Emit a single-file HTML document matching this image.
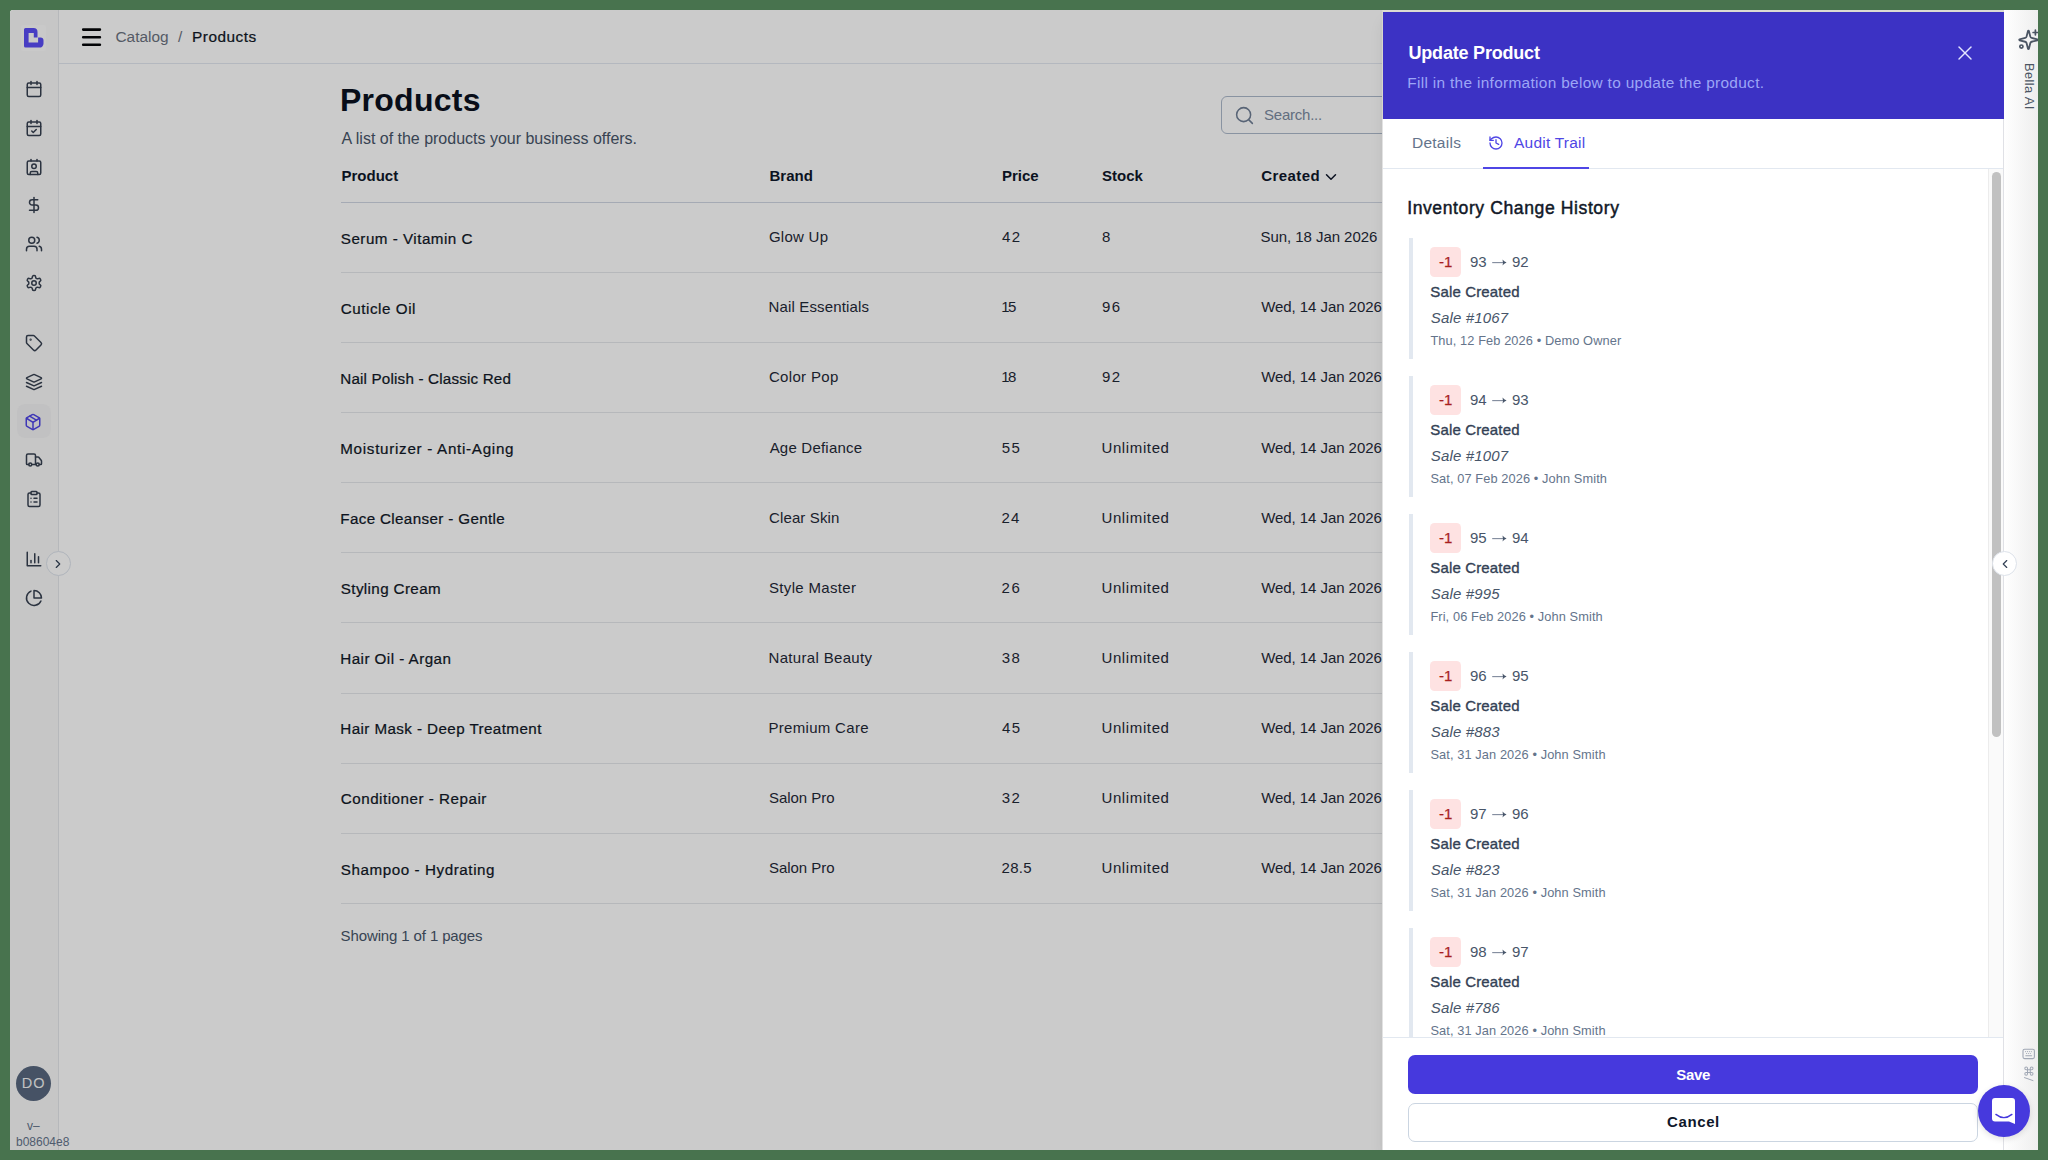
<!DOCTYPE html>
<html><head><meta charset="utf-8"><style>
*{box-sizing:border-box;margin:0;padding:0}
html,body{width:2048px;height:1160px;overflow:hidden}
body{background:#48734e;position:relative;font-family:"Liberation Sans",sans-serif;color:#111827}
svg.i{position:absolute;fill:none;stroke:currentColor;stroke-linecap:round;stroke-linejoin:round;overflow:visible}
.t{position:absolute;white-space:nowrap}
.b{position:absolute}
</style></head><body>
<div class="b" style="left:10px;top:10px;width:1994px;height:1140px;background:#fff;border-top-left-radius:3px"></div>
<div class="b" style="left:10px;top:10px;width:48px;height:1140px;background:#f9f9f9;border-top-left-radius:3px"></div>
<div class="b" style="left:58px;top:10px;width:1px;height:1140px;background:#e5e7eb"></div>
<div class="b" style="left:21px;top:25px;width:25px;height:26px;background:#fdfdfd;border-radius:2px"></div>
<svg class="b" style="left:24px;top:28px" width="20" height="20" viewBox="0 0 20 20"><path fill-rule="evenodd" fill="#5a4df5" d="M1.5 0H9.5A4 4 0 0 1 13.5 4V9.5H16.5A3 3 0 0 1 19.5 12.5V15.5A4 4 0 0 1 15.5 19.6H1.5A1.5 1.5 0 0 1 0 18.1V1.5A1.5 1.5 0 0 1 1.5 0ZM4.6 5V14.6H14.1V9.5H9.8V5Z"/></svg>
<svg class="i" style="left:24.5px;top:80px;width:18px;height:18px;color:#374151;" viewBox="0 0 24 24" stroke-width="2"><path d="M8 2v4"/><path d="M16 2v4"/><rect width="18" height="18" x="3" y="4" rx="2"/><path d="M3 10h18"/></svg>
<svg class="i" style="left:24.5px;top:119px;width:18px;height:18px;color:#374151;" viewBox="0 0 24 24" stroke-width="2"><path d="M8 2v4"/><path d="M16 2v4"/><rect width="18" height="18" x="3" y="4" rx="2"/><path d="M3 10h18"/><path d="m9 16 2 2 4-4"/></svg>
<svg class="i" style="left:24.5px;top:158px;width:18px;height:18px;color:#374151;" viewBox="0 0 24 24" stroke-width="2"><path d="M16 2v2"/><path d="M7 22v-2a2 2 0 0 1 2-2h6a2 2 0 0 1 2 2v2"/><path d="M8 2v2"/><circle cx="12" cy="11" r="3"/><rect x="3" y="4" width="18" height="18" rx="2"/></svg>
<svg class="i" style="left:24.5px;top:196px;width:18px;height:18px;color:#374151;" viewBox="0 0 24 24" stroke-width="2"><line x1="12" x2="12" y1="2" y2="22"/><path d="M17 5H9.5a3.5 3.5 0 0 0 0 7h5a3.5 3.5 0 0 1 0 7H6"/></svg>
<svg class="i" style="left:24.5px;top:235px;width:18px;height:18px;color:#374151;" viewBox="0 0 24 24" stroke-width="2"><path d="M16 21v-2a4 4 0 0 0-4-4H6a4 4 0 0 0-4 4v2"/><circle cx="9" cy="7" r="4"/><path d="M22 21v-2a4 4 0 0 0-3-3.87"/><path d="M16 3.13a4 4 0 0 1 0 7.75"/></svg>
<svg class="i" style="left:24.5px;top:274px;width:18px;height:18px;color:#374151;" viewBox="0 0 24 24" stroke-width="2"><path d="M12.22 2h-.44a2 2 0 0 0-2 2v.18a2 2 0 0 1-1 1.73l-.43.25a2 2 0 0 1-2 0l-.15-.08a2 2 0 0 0-2.73.73l-.22.38a2 2 0 0 0 .73 2.730l.15.1a2 2 0 0 1 1 1.72v.51a2 2 0 0 1-1 1.74l-.15.09a2 2 0 0 0-.73 2.73l.22.38a2 2 0 0 0 2.73.73l.15-.08a2 2 0 0 1 2 0l.43.25a2 2 0 0 1 1 1.73V20a2 2 0 0 0 2 2h.44a2 2 0 0 0 2-2v-.18a2 2 0 0 1 1-1.73l.43-.25a2 2 0 0 1 2 0l.15.08a2 2 0 0 0 2.73-.73l.22-.39a2 2 0 0 0-.73-2.73l-.15-.08a2 2 0 0 1-1-1.74v-.5a2 2 0 0 1 1-1.74l.15-.09a2 2 0 0 0 .73-2.73l-.22-.38a2 2 0 0 0-2.73-.73l-.15.08a2 2 0 0 1-2 0l-.43-.25a2 2 0 0 1-1-1.73V4a2 2 0 0 0-2-2z"/><circle cx="12" cy="12" r="3"/></svg>
<svg class="i" style="left:24.5px;top:334px;width:18px;height:18px;color:#374151;" viewBox="0 0 24 24" stroke-width="2"><path d="M12.586 2.586A2 2 0 0 0 11.172 2H4a2 2 0 0 0-2 2v7.172a2 2 0 0 0 .586 1.414l8.704 8.704a2.426 2.426 0 0 0 3.42 0l6.58-6.58a2.426 2.426 0 0 0 0-3.42z"/><circle cx="7.5" cy="7.5" r=".5" fill="currentColor"/></svg>
<svg class="i" style="left:24.5px;top:373px;width:18px;height:18px;color:#374151;" viewBox="0 0 24 24" stroke-width="2"><path d="m12.83 2.18a2 2 0 0 0-1.66 0L2.6 6.08a1 1 0 0 0 0 1.83l8.58 3.91a2 2 0 0 0 1.66 0l8.58-3.9a1 1 0 0 0 0-1.83Z"/><path d="m22 17.65-9.17 4.16a2 2 0 0 1-1.66 0L2 17.65"/><path d="m22 12.65-9.17 4.16a2 2 0 0 1-1.66 0L2 12.65"/></svg>
<div class="b" style="left:16.5px;top:404.3px;width:34px;height:34px;background:#f3f3f4;border-radius:8px"></div>
<svg class="i" style="left:24.1px;top:412.5px;width:18px;height:18px;color:#4f46e5;" viewBox="0 0 24 24" stroke-width="2"><path d="M11 21.73a2 2 0 0 0 2 0l7-4A2 2 0 0 0 21 16V8a2 2 0 0 0-1-1.73l-7-4a2 2 0 0 0-2 0l-7 4A2 2 0 0 0 3 8v8a2 2 0 0 0 1 1.73z"/><path d="M12 22V12"/><path d="m3.3 7 7.703 4.734a2 2 0 0 0 1.994 0L20.7 7"/><path d="m7.5 4.27 9 5.15"/></svg>
<svg class="i" style="left:24.5px;top:451px;width:18px;height:18px;color:#374151;" viewBox="0 0 24 24" stroke-width="2"><path d="M14 18V6a2 2 0 0 0-2-2H4a2 2 0 0 0-2 2v11a1 1 0 0 0 1 1h2"/><path d="M15 18H9"/><path d="M19 18h2a1 1 0 0 0 1-1v-3.65a1 1 0 0 0-.22-.624l-3.48-4.35A1 1 0 0 0 17.52 8H14"/><circle cx="17" cy="18" r="2"/><circle cx="7" cy="18" r="2"/></svg>
<svg class="i" style="left:24.5px;top:490px;width:18px;height:18px;color:#374151;" viewBox="0 0 24 24" stroke-width="2"><rect width="8" height="4" x="8" y="2" rx="1" ry="1"/><path d="M16 4h2a2 2 0 0 1 2 2v14a2 2 0 0 1-2 2H6a2 2 0 0 1-2-2V6a2 2 0 0 1 2-2h2"/><path d="M12 11h4"/><path d="M12 16h4"/><path d="M8 11h.01"/><path d="M8 16h.01"/></svg>
<svg class="i" style="left:24.5px;top:550px;width:18px;height:18px;color:#374151;" viewBox="0 0 24 24" stroke-width="2"><path d="M3 3v18h18"/><path d="M18 17V9"/><path d="M13 17V5"/><path d="M8 17v-3"/></svg>
<svg class="i" style="left:24.5px;top:589px;width:18px;height:18px;color:#374151;" viewBox="0 0 24 24" stroke-width="2"><path d="M21.21 15.89A10 10 0 1 1 8 2.83"/><path d="M22 12A10 10 0 0 0 12 2v10z"/></svg>
<div class="b" style="left:45.5px;top:551px;width:25px;height:25px;border-radius:50%;background:#fff;border:1px solid #dde3ec"></div>
<svg class="i" style="left:51px;top:556.5px;width:14px;height:14px;color:#334155;" viewBox="0 0 24 24" stroke-width="2"><path d="m9 18 6-6-6-6"/></svg>
<div class="b" style="left:16px;top:1066px;width:35px;height:35px;border-radius:50%;background:#58687f"></div>
<div class="t" style="left:21.81px;top:1075.73px;font-size:14.5px;line-height:14.5px;color:#f4f4f4;letter-spacing:0.935px;">DO</div>
<div class="t" style="left:27px;top:1119.84px;font-size:12px;line-height:12px;color:#64748b;">v–</div>
<div class="t" style="left:16px;top:1135.84px;font-size:12px;line-height:12px;color:#64748b;">b08604e8</div>
<div class="b" style="left:59px;top:63px;width:1945px;height:1px;background:#e2e8f0"></div>
<svg class="b" style="left:78px;top:25px" width="26" height="24" viewBox="78 25 26 24"><g stroke="#050608" stroke-width="2.6" stroke-linecap="round"><path d="M83.2 29.6H99.9M83.2 37.2H99.9M83.2 44.7H99.9"/></g></svg>
<div class="t" style="left:115.5px;top:29.16px;font-size:15.4px;line-height:15.4px;color:#6b7280;">Catalog</div>
<div class="t" style="left:178px;top:29.16px;font-size:15.4px;line-height:15.4px;color:#6b7280;">/</div>
<div class="t" style="left:192px;top:29.16px;font-size:15.4px;line-height:15.4px;color:#111827;letter-spacing:0.5px;-webkit-text-stroke:0.22px #111827;">Products</div>
<div class="t" style="left:340.0px;top:84.41px;font-size:32px;line-height:32px;color:#0b1120;font-weight:700;letter-spacing:0.26px;">Products</div>
<div class="t" style="left:341.6px;top:131.36px;font-size:16px;line-height:16px;color:#475569;letter-spacing:-0.01px;">A list of the products your business offers.</div>
<div class="b" style="left:1221px;top:96px;width:400px;height:38px;border:1px solid #adb9cb;border-radius:6px;background:#fff"></div>
<svg class="i" style="left:1234px;top:105.2px;width:21px;height:21px;color:#6f7e95;" viewBox="0 0 24 24" stroke-width="1.75"><circle cx="11" cy="11" r="8"/><path d="m21 21-4.3-4.3"/></svg>
<div class="t" style="left:1264.03px;top:107.30px;font-size:15px;line-height:15px;color:#7c8ba1;letter-spacing:-0.236px;">Search...</div>
<div class="t" style="left:341.5px;top:168.30px;font-size:15px;line-height:15px;color:#0f172a;font-weight:700;letter-spacing:0px;">Product</div>
<div class="t" style="left:769.5px;top:168.30px;font-size:15px;line-height:15px;color:#0f172a;font-weight:700;letter-spacing:0px;">Brand</div>
<div class="t" style="left:1002px;top:168.30px;font-size:15px;line-height:15px;color:#0f172a;font-weight:700;letter-spacing:0px;">Price</div>
<div class="t" style="left:1102px;top:168.30px;font-size:15px;line-height:15px;color:#0f172a;font-weight:700;letter-spacing:0px;">Stock</div>
<div class="t" style="left:1261.3px;top:168.30px;font-size:15px;line-height:15px;color:#0f172a;font-weight:700;letter-spacing:0.4px;">Created</div>
<svg class="i" style="left:1322px;top:167.5px;width:18px;height:18px;color:#0f172a;" viewBox="0 0 24 24" stroke-width="2"><path d="m6 9 6 6 6-6"/></svg>
<div class="b" style="left:341px;top:201.7px;width:1100px;height:1.3px;background:#d0d6e2"></div>
<div class="t" style="left:340.82px;top:230.83px;font-size:15.2px;line-height:15.2px;color:#111827;letter-spacing:0.492px;-webkit-text-stroke:0.22px #111827;">Serum - Vitamin C</div>
<div class="t" style="left:768.95px;top:229.30px;font-size:15px;line-height:15px;color:#1f2937;letter-spacing:0.259px;">Glow Up</div>
<div class="t" style="left:1001.97px;top:229.30px;font-size:15px;line-height:15px;color:#1f2937;letter-spacing:1.4px;">42</div>
<div class="t" style="left:1101.95px;top:229.30px;font-size:15px;line-height:15px;color:#1f2937;letter-spacing:0px;">8</div>
<div class="t" style="left:1260.53px;top:229.30px;font-size:15px;line-height:15px;color:#1f2937;letter-spacing:-0.052px;">Sun, 18 Jan 2026</div>
<div class="b" style="left:341px;top:272.08px;width:1100px;height:1px;background:#e5e7eb"></div>
<div class="t" style="left:340.74px;top:300.91px;font-size:15.2px;line-height:15.2px;color:#111827;letter-spacing:0.551px;-webkit-text-stroke:0.22px #111827;">Cuticle Oil</div>
<div class="t" style="left:768.47px;top:299.38px;font-size:15px;line-height:15px;color:#1f2937;letter-spacing:0.15px;">Nail Essentials</div>
<div class="t" style="left:1001.16px;top:299.38px;font-size:15px;line-height:15px;color:#1f2937;letter-spacing:-1.5px;">15</div>
<div class="t" style="left:1101.91px;top:299.38px;font-size:15px;line-height:15px;color:#1f2937;letter-spacing:1.5px;">96</div>
<div class="t" style="left:1261.14px;top:299.38px;font-size:15px;line-height:15px;color:#1f2937;letter-spacing:-0.052px;">Wed, 14 Jan 2026</div>
<div class="b" style="left:341px;top:342.16px;width:1100px;height:1px;background:#e5e7eb"></div>
<div class="t" style="left:340.25px;top:370.99px;font-size:15.2px;line-height:15.2px;color:#111827;letter-spacing:0.184px;-webkit-text-stroke:0.22px #111827;">Nail Polish - Classic Red</div>
<div class="t" style="left:768.95px;top:369.46px;font-size:15px;line-height:15px;color:#1f2937;letter-spacing:0.332px;">Color Pop</div>
<div class="t" style="left:1001.16px;top:369.46px;font-size:15px;line-height:15px;color:#1f2937;letter-spacing:-1.5px;">18</div>
<div class="t" style="left:1101.91px;top:369.46px;font-size:15px;line-height:15px;color:#1f2937;letter-spacing:1.5px;">92</div>
<div class="t" style="left:1261.14px;top:369.46px;font-size:15px;line-height:15px;color:#1f2937;letter-spacing:-0.052px;">Wed, 14 Jan 2026</div>
<div class="b" style="left:341px;top:412.24px;width:1100px;height:1px;background:#e5e7eb"></div>
<div class="t" style="left:340.25px;top:441.07px;font-size:15.2px;line-height:15.2px;color:#111827;letter-spacing:0.709px;-webkit-text-stroke:0.22px #111827;">Moisturizer - Anti-Aging</div>
<div class="t" style="left:769.67px;top:439.54px;font-size:15px;line-height:15px;color:#1f2937;letter-spacing:0.212px;">Age Defiance</div>
<div class="t" style="left:1001.7px;top:439.54px;font-size:15px;line-height:15px;color:#1f2937;letter-spacing:1.5px;">55</div>
<div class="t" style="left:1101.44px;top:439.54px;font-size:15px;line-height:15px;color:#1f2937;letter-spacing:0.624px;">Unlimited</div>
<div class="t" style="left:1261.14px;top:439.54px;font-size:15px;line-height:15px;color:#1f2937;letter-spacing:-0.052px;">Wed, 14 Jan 2026</div>
<div class="b" style="left:341px;top:482.32px;width:1100px;height:1px;background:#e5e7eb"></div>
<div class="t" style="left:340.25px;top:511.15px;font-size:15.2px;line-height:15.2px;color:#111827;letter-spacing:0.356px;-webkit-text-stroke:0.22px #111827;">Face Cleanser - Gentle</div>
<div class="t" style="left:768.95px;top:509.62px;font-size:15px;line-height:15px;color:#1f2937;letter-spacing:0.146px;">Clear Skin</div>
<div class="t" style="left:1001.55px;top:509.62px;font-size:15px;line-height:15px;color:#1f2937;letter-spacing:1.205px;">24</div>
<div class="t" style="left:1101.44px;top:509.62px;font-size:15px;line-height:15px;color:#1f2937;letter-spacing:0.624px;">Unlimited</div>
<div class="t" style="left:1261.14px;top:509.62px;font-size:15px;line-height:15px;color:#1f2937;letter-spacing:-0.052px;">Wed, 14 Jan 2026</div>
<div class="b" style="left:341px;top:552.40px;width:1100px;height:1px;background:#e5e7eb"></div>
<div class="t" style="left:340.82px;top:581.23px;font-size:15.2px;line-height:15.2px;color:#111827;letter-spacing:0.368px;-webkit-text-stroke:0.22px #111827;">Styling Cream</div>
<div class="t" style="left:769.03px;top:579.70px;font-size:15px;line-height:15px;color:#1f2937;letter-spacing:0.333px;">Style Master</div>
<div class="t" style="left:1001.55px;top:579.70px;font-size:15px;line-height:15px;color:#1f2937;letter-spacing:1.5px;">26</div>
<div class="t" style="left:1101.44px;top:579.70px;font-size:15px;line-height:15px;color:#1f2937;letter-spacing:0.624px;">Unlimited</div>
<div class="t" style="left:1261.14px;top:579.70px;font-size:15px;line-height:15px;color:#1f2937;letter-spacing:-0.052px;">Wed, 14 Jan 2026</div>
<div class="b" style="left:341px;top:622.48px;width:1100px;height:1px;background:#e5e7eb"></div>
<div class="t" style="left:340.25px;top:651.31px;font-size:15.2px;line-height:15.2px;color:#111827;letter-spacing:0.455px;-webkit-text-stroke:0.22px #111827;">Hair Oil - Argan</div>
<div class="t" style="left:768.47px;top:649.78px;font-size:15px;line-height:15px;color:#1f2937;letter-spacing:0.333px;">Natural Beauty</div>
<div class="t" style="left:1001.73px;top:649.78px;font-size:15px;line-height:15px;color:#1f2937;letter-spacing:1.5px;">38</div>
<div class="t" style="left:1101.44px;top:649.78px;font-size:15px;line-height:15px;color:#1f2937;letter-spacing:0.624px;">Unlimited</div>
<div class="t" style="left:1261.14px;top:649.78px;font-size:15px;line-height:15px;color:#1f2937;letter-spacing:-0.052px;">Wed, 14 Jan 2026</div>
<div class="b" style="left:341px;top:692.56px;width:1100px;height:1px;background:#e5e7eb"></div>
<div class="t" style="left:340.25px;top:721.39px;font-size:15.2px;line-height:15.2px;color:#111827;letter-spacing:0.414px;-webkit-text-stroke:0.22px #111827;">Hair Mask - Deep Treatment</div>
<div class="t" style="left:768.47px;top:719.86px;font-size:15px;line-height:15px;color:#1f2937;letter-spacing:0.309px;">Premium Care</div>
<div class="t" style="left:1001.97px;top:719.86px;font-size:15px;line-height:15px;color:#1f2937;letter-spacing:1.5px;">45</div>
<div class="t" style="left:1101.44px;top:719.86px;font-size:15px;line-height:15px;color:#1f2937;letter-spacing:0.624px;">Unlimited</div>
<div class="t" style="left:1261.14px;top:719.86px;font-size:15px;line-height:15px;color:#1f2937;letter-spacing:-0.052px;">Wed, 14 Jan 2026</div>
<div class="b" style="left:341px;top:762.64px;width:1100px;height:1px;background:#e5e7eb"></div>
<div class="t" style="left:340.74px;top:791.47px;font-size:15.2px;line-height:15.2px;color:#111827;letter-spacing:0.515px;-webkit-text-stroke:0.22px #111827;">Conditioner - Repair</div>
<div class="t" style="left:769.03px;top:789.94px;font-size:15px;line-height:15px;color:#1f2937;letter-spacing:-0.047px;">Salon Pro</div>
<div class="t" style="left:1001.73px;top:789.94px;font-size:15px;line-height:15px;color:#1f2937;letter-spacing:1.34px;">32</div>
<div class="t" style="left:1101.44px;top:789.94px;font-size:15px;line-height:15px;color:#1f2937;letter-spacing:0.624px;">Unlimited</div>
<div class="t" style="left:1261.14px;top:789.94px;font-size:15px;line-height:15px;color:#1f2937;letter-spacing:-0.052px;">Wed, 14 Jan 2026</div>
<div class="b" style="left:341px;top:832.72px;width:1100px;height:1px;background:#e5e7eb"></div>
<div class="t" style="left:340.82px;top:861.55px;font-size:15.2px;line-height:15.2px;color:#111827;letter-spacing:0.568px;-webkit-text-stroke:0.22px #111827;">Shampoo - Hydrating</div>
<div class="t" style="left:769.03px;top:860.02px;font-size:15px;line-height:15px;color:#1f2937;letter-spacing:-0.047px;">Salon Pro</div>
<div class="t" style="left:1001.55px;top:860.02px;font-size:15px;line-height:15px;color:#1f2937;letter-spacing:0.292px;">28.5</div>
<div class="t" style="left:1101.44px;top:860.02px;font-size:15px;line-height:15px;color:#1f2937;letter-spacing:0.624px;">Unlimited</div>
<div class="t" style="left:1261.14px;top:860.02px;font-size:15px;line-height:15px;color:#1f2937;letter-spacing:-0.052px;">Wed, 14 Jan 2026</div>
<div class="b" style="left:341px;top:902.80px;width:1100px;height:1px;background:#e5e7eb"></div>
<div class="t" style="left:340.62px;top:928.30px;font-size:15px;line-height:15px;color:#475569;letter-spacing:-0.124px;">Showing 1 of 1 pages</div>
<div class="b" style="left:10px;top:10px;width:1994px;height:1140px;background:rgba(0,0,0,.205);border-top-left-radius:3px"></div>
<div class="b" style="left:1382px;top:10px;width:622px;height:1140px;background:#fff;box-shadow:0 10px 15px -3px rgba(0,0,0,.1),0 4px 6px -4px rgba(0,0,0,.1)"></div>
<div class="b" style="left:1382px;top:10px;width:656px;height:2px;background:#dcdcd2"></div>
<div class="b" style="left:1382px;top:10px;width:1px;height:109px;background:#d6d6cd"></div>
<div class="b" style="left:1382px;top:119px;width:1px;height:1031px;background:#e2e2e2"></div>
<div class="b" style="left:1383px;top:12px;width:621px;height:107px;background:#3c32c4"></div>
<div class="t" style="left:1408.5px;top:43.96px;font-size:18px;line-height:18px;color:#ffffff;font-weight:700;letter-spacing:-0.2px;">Update Product</div>
<div class="t" style="left:1407.24px;top:75.06px;font-size:15.4px;line-height:15.4px;color:#9ca6f6;letter-spacing:0.319px;">Fill in the information below to update the product.</div>
<svg class="i" style="left:1953px;top:41px;width:24px;height:24px;color:#e4e6ff;" viewBox="0 0 24 24" stroke-width="1.4"><path d="M18 6 6 18"/><path d="m6 6 12 12"/></svg>
<div class="t" style="left:1412px;top:134.88px;font-size:15.5px;line-height:15.5px;color:#64748b;letter-spacing:0.25px;">Details</div>
<svg class="i" style="left:1487.5px;top:135px;width:16px;height:16px;color:#4f46e5;" viewBox="0 0 24 24" stroke-width="2"><path d="M3 12a9 9 0 1 0 9-9 9.75 9.75 0 0 0-6.74 2.74L3 8"/><path d="M3 3v5h5"/><path d="M12 7v5l4 2"/></svg>
<div class="t" style="left:1514px;top:134.88px;font-size:15.5px;line-height:15.5px;color:#4f46e5;letter-spacing:0.22px;">Audit Trail</div>
<div class="b" style="left:1383px;top:168px;width:621px;height:1px;background:#e2e8f0"></div>
<div class="b" style="left:1483px;top:167px;width:106px;height:2px;background:#4f46e5"></div>
<div class="b" style="left:1988px;top:169px;width:16px;height:868px;background:#fafafa;border-left:1px solid #ececec"></div>
<div class="b" style="left:1992px;top:172px;width:8.5px;height:565px;background:#c1c1c1;border-radius:5px"></div>
<div class="b" style="left:2003.3px;top:119px;width:1.3px;height:1031px;background:#e0e1e6"></div>
<div class="t" style="left:1407.18px;top:199.60px;font-size:17.6px;line-height:17.6px;color:#111827;letter-spacing:0.577px;-webkit-text-stroke:0.45px #111827;">Inventory Change History</div>
<div class="b" style="left:1408.5px;top:238px;width:4px;height:120.5px;background:#e2e8f0"></div>
<div class="b" style="left:1430px;top:247px;width:31px;height:30px;background:#fee2e2;border-radius:4.5px"></div>
<div class="t" style="left:1439px;top:253.90px;font-size:15px;line-height:15px;color:#a81f1f;-webkit-text-stroke:0.25px #a81f1f;">-1</div>
<div class="t" style="left:1470px;top:253.90px;font-size:15px;line-height:15px;color:#475569;letter-spacing:-0.2px;">93</div>
<svg class="b" style="left:1490px;top:257px" width="18" height="10" viewBox="1490 257 18 10"><path d="M1492.2 262.6H1504.5" stroke="#7f899b" stroke-width="1.1"/><path d="M1502.5 259.6Q1504 261.8 1506.6 262.6Q1504 263.4 1502.5 265.6Q1503.4 262.6 1502.5 259.6Z" fill="#475569"/></svg>
<div class="t" style="left:1512px;top:253.90px;font-size:15px;line-height:15px;color:#475569;letter-spacing:-0.2px;">92</div>
<div class="t" style="left:1430.3px;top:284.10px;font-size:15px;line-height:15px;color:#334155;letter-spacing:0.15px;-webkit-text-stroke:0.35px #334155;">Sale Created</div>
<div class="t" style="left:1430.8px;top:310.00px;font-size:15px;line-height:15px;color:#475569;font-style:italic;letter-spacing:0.15px;">Sale #1067</div>
<div class="t" style="left:1430.4px;top:335.06px;font-size:12.8px;line-height:12.8px;color:#64748b;letter-spacing:0.1px;">Thu, 12 Feb 2026 • Demo Owner</div>
<div class="b" style="left:1408.5px;top:376px;width:4px;height:120.5px;background:#e2e8f0"></div>
<div class="b" style="left:1430px;top:385px;width:31px;height:30px;background:#fee2e2;border-radius:4.5px"></div>
<div class="t" style="left:1439px;top:391.90px;font-size:15px;line-height:15px;color:#a81f1f;-webkit-text-stroke:0.25px #a81f1f;">-1</div>
<div class="t" style="left:1470px;top:391.90px;font-size:15px;line-height:15px;color:#475569;letter-spacing:-0.2px;">94</div>
<svg class="b" style="left:1490px;top:395px" width="18" height="10" viewBox="1490 395 18 10"><path d="M1492.2 400.6H1504.5" stroke="#7f899b" stroke-width="1.1"/><path d="M1502.5 397.6Q1504 399.8 1506.6 400.6Q1504 401.4 1502.5 403.6Q1503.4 400.6 1502.5 397.6Z" fill="#475569"/></svg>
<div class="t" style="left:1512px;top:391.90px;font-size:15px;line-height:15px;color:#475569;letter-spacing:-0.2px;">93</div>
<div class="t" style="left:1430.3px;top:422.10px;font-size:15px;line-height:15px;color:#334155;letter-spacing:0.15px;-webkit-text-stroke:0.35px #334155;">Sale Created</div>
<div class="t" style="left:1430.8px;top:448.00px;font-size:15px;line-height:15px;color:#475569;font-style:italic;letter-spacing:0.15px;">Sale #1007</div>
<div class="t" style="left:1430.4px;top:473.06px;font-size:12.8px;line-height:12.8px;color:#64748b;letter-spacing:0.1px;">Sat, 07 Feb 2026 • John Smith</div>
<div class="b" style="left:1408.5px;top:514px;width:4px;height:120.5px;background:#e2e8f0"></div>
<div class="b" style="left:1430px;top:523px;width:31px;height:30px;background:#fee2e2;border-radius:4.5px"></div>
<div class="t" style="left:1439px;top:529.90px;font-size:15px;line-height:15px;color:#a81f1f;-webkit-text-stroke:0.25px #a81f1f;">-1</div>
<div class="t" style="left:1470px;top:529.90px;font-size:15px;line-height:15px;color:#475569;letter-spacing:-0.2px;">95</div>
<svg class="b" style="left:1490px;top:533px" width="18" height="10" viewBox="1490 533 18 10"><path d="M1492.2 538.6H1504.5" stroke="#7f899b" stroke-width="1.1"/><path d="M1502.5 535.6Q1504 537.8 1506.6 538.6Q1504 539.4 1502.5 541.6Q1503.4 538.6 1502.5 535.6Z" fill="#475569"/></svg>
<div class="t" style="left:1512px;top:529.90px;font-size:15px;line-height:15px;color:#475569;letter-spacing:-0.2px;">94</div>
<div class="t" style="left:1430.3px;top:560.10px;font-size:15px;line-height:15px;color:#334155;letter-spacing:0.15px;-webkit-text-stroke:0.35px #334155;">Sale Created</div>
<div class="t" style="left:1430.8px;top:586.00px;font-size:15px;line-height:15px;color:#475569;font-style:italic;letter-spacing:0.15px;">Sale #995</div>
<div class="t" style="left:1430.4px;top:611.06px;font-size:12.8px;line-height:12.8px;color:#64748b;letter-spacing:0.1px;">Fri, 06 Feb 2026 • John Smith</div>
<div class="b" style="left:1408.5px;top:652px;width:4px;height:120.5px;background:#e2e8f0"></div>
<div class="b" style="left:1430px;top:661px;width:31px;height:30px;background:#fee2e2;border-radius:4.5px"></div>
<div class="t" style="left:1439px;top:667.90px;font-size:15px;line-height:15px;color:#a81f1f;-webkit-text-stroke:0.25px #a81f1f;">-1</div>
<div class="t" style="left:1470px;top:667.90px;font-size:15px;line-height:15px;color:#475569;letter-spacing:-0.2px;">96</div>
<svg class="b" style="left:1490px;top:671px" width="18" height="10" viewBox="1490 671 18 10"><path d="M1492.2 676.6H1504.5" stroke="#7f899b" stroke-width="1.1"/><path d="M1502.5 673.6Q1504 675.8 1506.6 676.6Q1504 677.4 1502.5 679.6Q1503.4 676.6 1502.5 673.6Z" fill="#475569"/></svg>
<div class="t" style="left:1512px;top:667.90px;font-size:15px;line-height:15px;color:#475569;letter-spacing:-0.2px;">95</div>
<div class="t" style="left:1430.3px;top:698.10px;font-size:15px;line-height:15px;color:#334155;letter-spacing:0.15px;-webkit-text-stroke:0.35px #334155;">Sale Created</div>
<div class="t" style="left:1430.8px;top:724.00px;font-size:15px;line-height:15px;color:#475569;font-style:italic;letter-spacing:0.15px;">Sale #883</div>
<div class="t" style="left:1430.4px;top:749.06px;font-size:12.8px;line-height:12.8px;color:#64748b;letter-spacing:0.1px;">Sat, 31 Jan 2026 • John Smith</div>
<div class="b" style="left:1408.5px;top:790px;width:4px;height:120.5px;background:#e2e8f0"></div>
<div class="b" style="left:1430px;top:799px;width:31px;height:30px;background:#fee2e2;border-radius:4.5px"></div>
<div class="t" style="left:1439px;top:805.90px;font-size:15px;line-height:15px;color:#a81f1f;-webkit-text-stroke:0.25px #a81f1f;">-1</div>
<div class="t" style="left:1470px;top:805.90px;font-size:15px;line-height:15px;color:#475569;letter-spacing:-0.2px;">97</div>
<svg class="b" style="left:1490px;top:809px" width="18" height="10" viewBox="1490 809 18 10"><path d="M1492.2 814.6H1504.5" stroke="#7f899b" stroke-width="1.1"/><path d="M1502.5 811.6Q1504 813.8 1506.6 814.6Q1504 815.4 1502.5 817.6Q1503.4 814.6 1502.5 811.6Z" fill="#475569"/></svg>
<div class="t" style="left:1512px;top:805.90px;font-size:15px;line-height:15px;color:#475569;letter-spacing:-0.2px;">96</div>
<div class="t" style="left:1430.3px;top:836.10px;font-size:15px;line-height:15px;color:#334155;letter-spacing:0.15px;-webkit-text-stroke:0.35px #334155;">Sale Created</div>
<div class="t" style="left:1430.8px;top:862.00px;font-size:15px;line-height:15px;color:#475569;font-style:italic;letter-spacing:0.15px;">Sale #823</div>
<div class="t" style="left:1430.4px;top:887.06px;font-size:12.8px;line-height:12.8px;color:#64748b;letter-spacing:0.1px;">Sat, 31 Jan 2026 • John Smith</div>
<div class="b" style="left:1408.5px;top:928px;width:4px;height:120.5px;background:#e2e8f0"></div>
<div class="b" style="left:1430px;top:937px;width:31px;height:30px;background:#fee2e2;border-radius:4.5px"></div>
<div class="t" style="left:1439px;top:943.90px;font-size:15px;line-height:15px;color:#a81f1f;-webkit-text-stroke:0.25px #a81f1f;">-1</div>
<div class="t" style="left:1470px;top:943.90px;font-size:15px;line-height:15px;color:#475569;letter-spacing:-0.2px;">98</div>
<svg class="b" style="left:1490px;top:947px" width="18" height="10" viewBox="1490 947 18 10"><path d="M1492.2 952.6H1504.5" stroke="#7f899b" stroke-width="1.1"/><path d="M1502.5 949.6Q1504 951.8 1506.6 952.6Q1504 953.4 1502.5 955.6Q1503.4 952.6 1502.5 949.6Z" fill="#475569"/></svg>
<div class="t" style="left:1512px;top:943.90px;font-size:15px;line-height:15px;color:#475569;letter-spacing:-0.2px;">97</div>
<div class="t" style="left:1430.3px;top:974.10px;font-size:15px;line-height:15px;color:#334155;letter-spacing:0.15px;-webkit-text-stroke:0.35px #334155;">Sale Created</div>
<div class="t" style="left:1430.8px;top:1000.00px;font-size:15px;line-height:15px;color:#475569;font-style:italic;letter-spacing:0.15px;">Sale #786</div>
<div class="t" style="left:1430.4px;top:1025.06px;font-size:12.8px;line-height:12.8px;color:#64748b;letter-spacing:0.1px;">Sat, 31 Jan 2026 • John Smith</div>
<div class="b" style="left:1383px;top:1037px;width:620px;height:113px;background:#fff;border-top:1px solid #e2e8f0"></div>
<div class="b" style="left:1408px;top:1055px;width:570px;height:39px;background:#4639dd;border-radius:7px"></div>
<div class="t" style="left:1676.18px;top:1067.30px;font-size:15px;line-height:15px;color:#ffffff;font-weight:700;letter-spacing:-0.298px;">Save</div>
<div class="b" style="left:1408px;top:1103px;width:570px;height:38.5px;background:#fff;border:1px solid #cbd5e1;border-radius:7px"></div>
<div class="t" style="left:1667.09px;top:1114.30px;font-size:15px;line-height:15px;color:#0f172a;font-weight:700;letter-spacing:0.596px;">Cancel</div>
<div class="b" style="left:2004px;top:10px;width:34px;height:1140px;background:linear-gradient(90deg,#fff,#eeeeee)"></div>
<div class="b" style="left:2004px;top:10px;width:34px;height:1140px;overflow:hidden"><svg class="b" style="left:0;top:0" width="34" height="60" viewBox="2004 10 34 60"><g fill="none" stroke="#4b5563" stroke-width="1.7" stroke-linejoin="round" stroke-linecap="round"><path transform="translate(2017.4 28.8) scale(0.92)" stroke-width="2" d="M9.937 15.5A2 2 0 0 0 8.5 14.063l-6.135-1.582a.5.5 0 0 1 0-.962L8.5 9.936A2 2 0 0 0 9.937 8.5l1.582-6.135a.5.5 0 0 1 .963 0L14.063 8.5A2 2 0 0 0 15.5 9.937l6.135 1.581a.5.5 0 0 1 0 .964L15.5 14.063a2 2 0 0 0-1.437 1.437l-1.582 6.135a.5.5 0 0 1-.963 0z"/><path d="M2035.4 30.2V34.8M2033.1 32.5H2037.7"/><circle cx="2021.4" cy="46.6" r="1.6"/></g></svg><div class="t" style="left:30.5px;top:53.3px;font-size:12.8px;line-height:12.8px;color:#4b5563;transform-origin:0 0;transform:rotate(90deg);letter-spacing:0.42px">Bella AI</div><svg class="b" style="left:0;top:0;top:1030px" width="34" height="60" viewBox="2004 1040 34 60"><g fill="none" stroke="#a0a7b4" stroke-width="1.1" stroke-linecap="round"><rect x="2023" y="1049.2" width="11.4" height="9.4" rx="1.6"/><path d="M2025.6 1051.6h.01M2027.5 1051.6h.01M2029.4 1051.6h.01M2031.3 1051.6h.01M2026.5 1053.5h.01M2028.4 1053.5h.01M2030.3 1053.5h.01M2025.8 1055.8h5.8"/><path transform="translate(2023.43 1065.63) scale(0.456)" stroke-width="2.2" d="M15 6v12a3 3 0 1 0 3-3H6a3 3 0 1 0 3 3V6a3 3 0 1 0-3 3h12a3 3 0 1 0-3-3"/><path d="M2024.5 1077.6 2033 1080.6" stroke-width="1"/></g></svg></div><div class="b" style="left:1992.2px;top:551px;width:25.2px;height:25.2px;border-radius:50%;background:#fff;border:1px solid #dde2ea"></div>
<svg class="i" style="left:1998px;top:556.8px;width:14px;height:14px;color:#334155;" viewBox="0 0 24 24" stroke-width="2"><path d="m15 18-6-6 6-6"/></svg>
<div class="b" style="left:1977.8px;top:1085.3px;width:51.8px;height:51.8px;border-radius:50%;background:#4639dd;box-shadow:0 2px 6px rgba(0,0,0,.12)"></div>
<svg class="b" style="left:1992px;top:1098px" width="24" height="27" viewBox="0 0 24 27"><path fill="#fff" d="M3 0H20A3 3 0 0 1 23 3V26L17 23.5H3A3 3 0 0 1 0 20.5V3A3 3 0 0 1 3 0Z"/><path d="M3.9 16.4Q11.9 22.8 19.9 16.4" stroke="#4639dd" stroke-width="1.4" fill="none" stroke-linecap="round"/></svg>
<div class="b" style="left:0;top:0;width:2048px;height:10px;background:#48734e"></div>
<div class="b" style="left:0;top:1150px;width:2048px;height:10px;background:#48734e"></div>
<div class="b" style="left:0;top:0;width:10px;height:1160px;background:#48734e"></div>
<div class="b" style="left:2038px;top:0;width:10px;height:1160px;background:#48734e"></div>
</body></html>
